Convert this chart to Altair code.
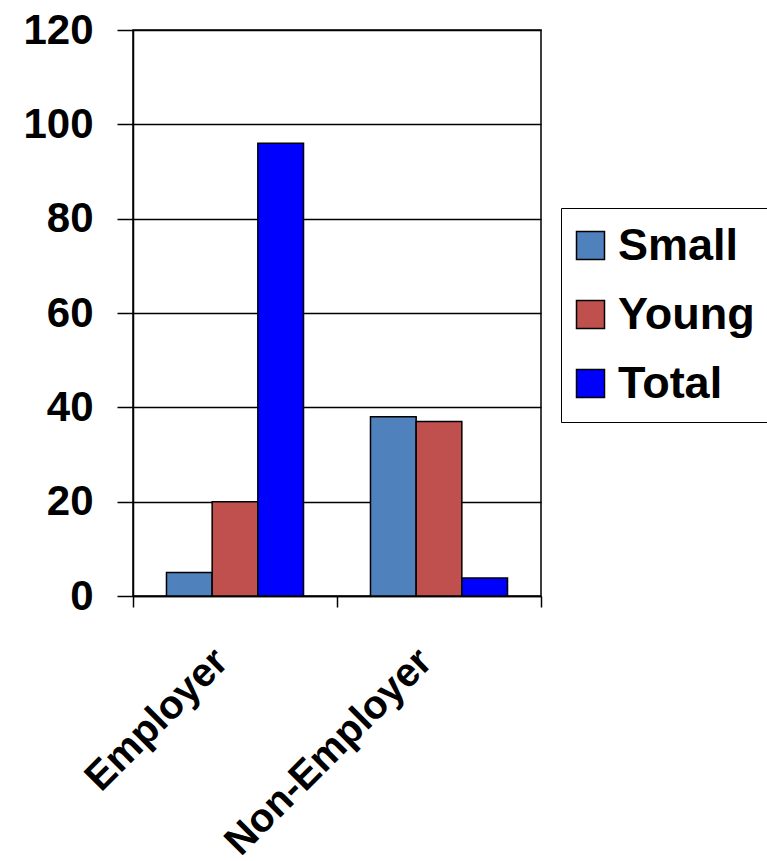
import altair as alt
import pandas as pd

categories = ["Employer", "Non-Employer"]
series = ["Small", "Young", "Total"]
small_vals = [5, 38]
young_vals = [20, 37]
total_vals = [96, 3.8]
colors = ["#4F81BD", "#C0504D", "#0000FF"]

rows = []
for i, c in enumerate(categories):
    rows.append({"cat": c, "series": "Small", "value": small_vals[i]})
    rows.append({"cat": c, "series": "Young", "value": young_vals[i]})
    rows.append({"cat": c, "series": "Total", "value": total_vals[i]})
df = pd.DataFrame(rows)

FONT = "Liberation Sans"

chart = alt.Chart(df).mark_bar(stroke="black", strokeWidth=1.5).encode(
    x=alt.X("cat:N", sort=categories, title=None,
            scale=alt.Scale(paddingInner=0, paddingOuter=0),
            axis=alt.Axis(labelAngle=-45, labelAlign="right", labelBaseline="middle",
                          labelFontSize=40, labelFont=FONT, labelFontWeight="bold",
                          labelColor="black", labelPadding=48, labelOffset=-14,
                          labelLimit=500,
                          tickBand="extent", tickSize=11, tickColor="black",
                          domainColor="black", domainWidth=1.5, tickWidth=1.5,
                          grid=False)),
    xOffset=alt.XOffset("series:N", sort=series,
                        scale=alt.Scale(paddingInner=0, paddingOuter=0.733)),
    y=alt.Y("value:Q", title=None,
            scale=alt.Scale(domain=[0, 120], nice=False),
            axis=alt.Axis(values=[0, 20, 40, 60, 80, 100, 120],
                          labelFontSize=42, labelFont=FONT, labelFontWeight="bold",
                          labelColor="black", labelPadding=24,
                          tickSize=16, tickColor="black", tickWidth=1.5,
                          domainColor="black", domainWidth=1.5,
                          gridColor="black", gridWidth=1.5, gridOpacity=1)),
    color=alt.Color("series:N", sort=series,
                    scale=alt.Scale(domain=series, range=colors),
                    legend=alt.Legend(title=None, orient="none", legendX=428, legendY=178,
                                      symbolType="square", symbolSize=784,
                                      symbolStrokeColor="black", symbolStrokeWidth=1.5,
                                      symbolOpacity=1, symbolOffset=-8,
                                      labelFontSize=45, labelFont=FONT, labelFontWeight="bold",
                                      labelColor="black", labelOffset=5, labelLimit=400,
                                      rowPadding=23, padding=15,
                                      strokeColor="black", fillColor="white")),
).properties(
    width=408, height=566,
    autosize=alt.AutoSizeParams(type="none"),
    padding={"left": 133, "top": 30, "right": 226, "bottom": 265},
).configure_view(stroke="black", strokeWidth=1.5)

chart.save("out.html", embed_options={"renderer": "svg", "actions": False})
